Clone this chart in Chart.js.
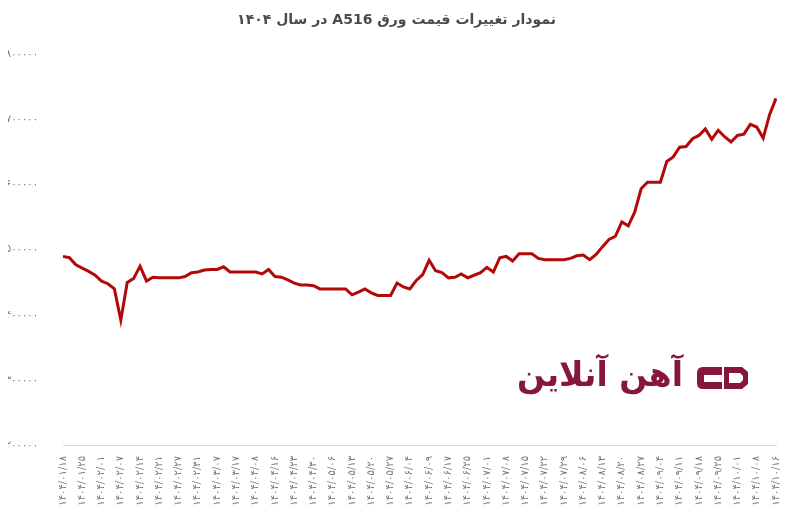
<!DOCTYPE html>
<html lang="fa">
<head>
<meta charset="utf-8">
<title>A516</title>
<script src="https://cdn.jsdelivr.net/npm/chart.js@4.4.1/dist/chart.umd.min.js"></script>
<style>
    html, body { margin: 0; padding: 0; background: #fff; }
    #wrap { width: 791px; height: 520px; }
    canvas { direction: rtl; }
</style>
</head>
<body>
<div id="wrap"><canvas id="priceChart" width="791" height="520"></canvas></div>
<script>
// Dates of the price points (Jalali); every third one is shown on the axis
const dates = [
    '1404/01/18', '1404/01/20', '1404/01/22',
    '1404/01/25', '1404/01/27', '1404/01/29',
    '1404/02/01', '1404/02/04', '1404/02/05',
    '1404/02/07', '1404/02/09', '1404/02/11',
    '1404/02/14', '1404/02/16', '1404/02/18',
    '1404/02/21', '1404/02/23', '1404/02/25',
    '1404/02/27', '1404/02/28', '1404/02/30',
    '1404/02/31', '1404/03/03', '1404/03/05',
    '1404/03/07', '1404/03/10', '1404/03/12',
    '1404/03/17', '1404/03/19', '1404/03/21',
    '1404/04/08', '1404/04/10', '1404/04/13',
    '1404/04/16', '1404/04/18', '1404/04/21',
    '1404/04/23', '1404/04/25', '1404/04/28',
    '1404/04/30', '1404/05/01', '1404/05/04',
    '1404/05/06', '1404/05/08', '1404/05/11',
    '1404/05/13', '1404/05/15', '1404/05/18',
    '1404/05/20', '1404/05/22', '1404/05/25',
    '1404/05/27', '1404/05/29', '1404/06/01',
    '1404/06/04', '1404/06/06', '1404/06/08',
    '1404/06/09', '1404/06/12', '1404/06/15',
    '1404/06/17', '1404/06/19', '1404/06/22',
    '1404/06/25', '1404/06/27', '1404/06/29',
    '1404/07/01', '1404/07/03', '1404/07/06',
    '1404/07/08', '1404/07/10', '1404/07/13',
    '1404/07/15', '1404/07/17', '1404/07/20',
    '1404/07/22', '1404/07/24', '1404/07/27',
    '1404/07/29', '1404/08/01', '1404/08/04',
    '1404/08/06', '1404/08/08', '1404/08/11',
    '1404/08/13', '1404/08/15', '1404/08/18',
    '1404/08/20', '1404/08/22', '1404/08/25',
    '1404/08/27', '1404/08/29', '1404/09/02',
    '1404/09/04', '1404/09/06', '1404/09/09',
    '1404/09/11', '1404/09/13', '1404/09/16',
    '1404/09/18', '1404/09/20', '1404/09/23',
    '1404/09/25', '1404/09/27', '1404/09/29',
    '1404/10/01', '1404/10/03', '1404/10/06',
    '1404/10/08', '1404/10/11', '1404/10/14',
    '1404/10/16'
];

// A516 plate price
const prices = [
    490000, 488000, 477000, 472000, 467000, 461000, 452000, 448000, 440000, 392000,
    450000, 456000, 475000, 452000, 458000, 457000, 457000, 457000, 457000, 459000,
    465000, 466000, 469000, 470000, 470000, 474000, 466000, 466000, 466000, 466000,
    466000, 463000, 470000, 459000, 458000, 454000, 449000, 446000, 446000, 445000,
    440000, 440000, 440000, 440000, 440000, 431000, 435000, 440000, 434000, 430000,
    430000, 430000, 449000, 443000, 440000, 453000, 462000, 484000, 468000, 465000,
    457000, 458000, 463000, 457000, 461000, 465000, 473000, 466000, 488000, 490000,
    483000, 494000, 494000, 494000, 487000, 485000, 485000, 485000, 485000, 487000,
    491000, 492000, 485000, 493000, 505000, 516000, 521000, 543000, 537000, 558000,
    594000, 604000, 604000, 604000, 636000, 643000, 658000, 659000, 671000, 676000,
    686000, 670000, 684000, 674000, 666000, 676000, 678000, 693000, 689000, 672000,
    708000, 733000
];

const yMin = 200000;
const yMax = 800000;
const yStep = 100000;
const labelEvery = 3;

const chartTitle = 'نمودار تغییرات قیمت ورق A516 در سال ۱۴۰۴';
const logoText = 'آهن آنلاین';
const logoColor = '#86173a';
const lineColor = '#b30808';
const fontFamily = '"DejaVu Sans", sans-serif';

// western digits -> persian digits
function faDigits(s) {
    return String(s).replace(/\d/g, d => '۰۱۲۳۴۵۶۷۸۹'[d]);
}

// "Ahan Online" watermark drawn behind the line
const watermark = {
    id: 'watermark',
    beforeDatasetsDraw(chart) {
        const ctx = chart.ctx;
        ctx.save();
        ctx.fillStyle = logoColor;
        ctx.direction = 'rtl';
        ctx.textAlign = 'right';
        ctx.textBaseline = 'alphabetic';
        ctx.font = 'bold 34px ' + fontFamily;
        ctx.fillText(logoText, 683, 386, 166);

        // mark: "a" block
        ctx.beginPath();
        ctx.moveTo(703, 367);
        ctx.lineTo(722, 367);
        ctx.lineTo(722, 389);
        ctx.lineTo(703, 389);
        ctx.quadraticCurveTo(697, 389, 697, 383);
        ctx.lineTo(697, 373);
        ctx.quadraticCurveTo(697, 367, 703, 367);
        ctx.closePath();
        ctx.fill();
        // mark: "D" block
        ctx.beginPath();
        ctx.moveTo(724, 367);
        ctx.lineTo(742, 367);
        ctx.lineTo(748, 372);
        ctx.lineTo(748, 384);
        ctx.lineTo(742, 389);
        ctx.lineTo(724, 389);
        ctx.closePath();
        ctx.fill();

        ctx.fillStyle = '#ffffff';
        ctx.fillRect(704, 375, 20, 7);
        ctx.beginPath();
        ctx.moveTo(729, 373);
        ctx.lineTo(740, 373);
        ctx.lineTo(743, 376);
        ctx.lineTo(743, 380);
        ctx.lineTo(740, 383);
        ctx.lineTo(729, 383);
        ctx.closePath();
        ctx.fill();
        ctx.restore();
    }
};

const ctx = document.getElementById('priceChart').getContext('2d');
new Chart(ctx, {
    type: 'line',
    data: {
        labels: dates,
        datasets: [{
            label: 'A516',
            data: prices,
            borderColor: lineColor,
            backgroundColor: lineColor,
            borderWidth: 3,
            pointRadius: 0,
            tension: 0,
            fill: false
        }]
    },
    options: {
        responsive: false,
        animation: false,
        layout: {
            padding: { top: 0, right: 6, bottom: 0, left: 8 }
        },
        plugins: {
            legend: { display: false },
            tooltip: { enabled: false },
            title: {
                display: true,
                text: chartTitle,
                color: '#4a4a4a',
                font: { family: fontFamily, size: 14, weight: 'bold' },
                padding: { top: 12, bottom: 26 }
            }
        },
        scales: {
            x: {
                grid: { display: false },
                border: { display: true, color: '#d9d9d9', width: 1 },
                ticks: {
                    autoSkip: false,
                    minRotation: 90,
                    maxRotation: 90,
                    color: '#777',
                    font: { family: fontFamily, size: 10 },
                    callback: function(value, index) {
                        return index % labelEvery === 0 ? faDigits(dates[index]) : null;
                    }
                },
                afterFit: function(scale) {
                    scale.height = 75;
                }
            },
            y: {
                min: yMin,
                max: yMax,
                grid: { display: false },
                border: { display: false },
                ticks: {
                    stepSize: yStep,
                    padding: 17,
                    color: '#777',
                    font: { family: fontFamily, size: 10 },
                    callback: function(value) {
                        return faDigits(value);
                    }
                },
                afterFit: function(scale) {
                    scale.width = 55;
                }
            }
        }
    },
    plugins: [watermark]
});
</script>
</body>
</html>
